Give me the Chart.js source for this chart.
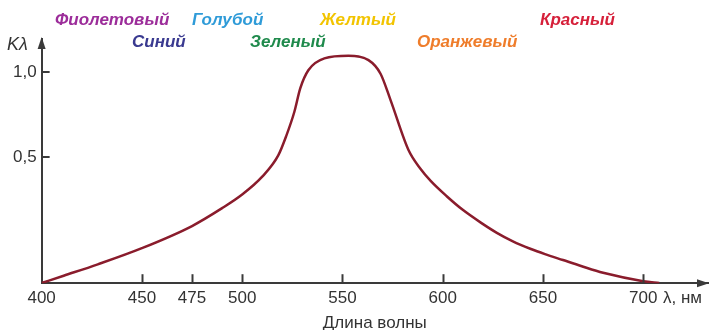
<!DOCTYPE html>
<html>
<head>
<meta charset="utf-8">
<script src="https://cdn.jsdelivr.net/npm/chart.js@4"></script>
<style>
  html, body { margin: 0; padding: 0; background: #fff; }
  #wrap { width: 719px; height: 330px; }
</style>
</head>
<body>
<div id="wrap"><canvas id="sensChart" width="719" height="330"></canvas></div>
<script>
// wavelength, nm
const wavelength = [400, 411, 428, 450, 475, 490, 500, 510, 518, 522, 526, 529, 533, 541, 553, 563, 569, 574, 583, 589, 594, 602, 610, 619, 627, 635, 644, 651, 660, 669, 680, 700, 708];
// relative sensitivity K(lambda)
const sensitivity = [-0.24, -0.197, -0.13, -0.035, 0.095, 0.20, 0.28, 0.385, 0.51, 0.625, 0.765, 0.905, 1.01, 1.08, 1.095, 1.07, 0.99, 0.835, 0.54, 0.43, 0.36, 0.27, 0.19, 0.115, 0.055, 0.005, -0.04, -0.07, -0.105, -0.14, -0.18, -0.229, -0.24];
const xTicks = [400, 450, 475, 500, 550, 600, 650, 700];
const yTicks = [0.5, 1.0];
const colorNames = ['Фиолетовый', 'Синий', 'Голубой', 'Зеленый', 'Желтый', 'Оранжевый', 'Красный'];
const colorValues = ['#9c2d9a', '#3a3a90', '#2f9bd8', '#1f8a4c', '#f2c400', '#ef7d2b', '#d6203a'];

// where each colour word sits (left x, middle y)
const namePos = [[55, 20], [132, 42], [192, 20], [250, 42], [320, 20], [417, 42], [540, 20]];

const axisColor = '#3a3a3a';
const textColor = '#333';
const font = "'Liberation Sans', Arial, sans-serif";

const extras = {
    id: 'extras',
    afterDraw(chart) {
        const c = chart.ctx;
        const a = chart.chartArea;
        const xs = chart.scales.x, ys = chart.scales.y;
        c.save();
        c.strokeStyle = axisColor;
        c.fillStyle = axisColor;
        c.lineWidth = 2;
        // inner tick marks
        xTicks.forEach(v => {
            if (v === 400) return;
            const px = Math.round(xs.getPixelForValue(v)) + 0.5;
            c.beginPath();
            c.moveTo(px, a.bottom);
            c.lineTo(px, a.bottom - 9);
            c.stroke();
        });
        yTicks.forEach(v => {
            const py = Math.round(ys.getPixelForValue(v));
            c.beginPath();
            c.moveTo(a.left, py);
            c.lineTo(a.left + 8, py);
            c.stroke();
        });
        // arrow heads
        c.beginPath();
        c.moveTo(a.right + 1, a.bottom);
        c.lineTo(a.right - 11, a.bottom - 4);
        c.lineTo(a.right - 11, a.bottom + 4);
        c.closePath();
        c.fill();
        c.beginPath();
        c.moveTo(a.left, a.top - 2);
        c.lineTo(a.left - 4, a.top + 10);
        c.lineTo(a.left + 4, a.top + 10);
        c.closePath();
        c.fill();

        // axis names
        c.fillStyle = textColor;
        c.textBaseline = 'middle';
        c.textAlign = 'left';
        c.font = 'italic 18px ' + font;
        c.fillText('Kλ', 7, 45);
        c.font = '17px ' + font;
        c.fillText('λ, нм', 663, 298);

        // colour words
        c.font = 'italic bold 17px ' + font;
        colorNames.forEach((n, i) => {
            c.fillStyle = colorValues[i];
            c.fillText(n, namePos[i][0], namePos[i][1]);
        });
        c.restore();
    }
};

const ctx = document.getElementById('sensChart').getContext('2d');
const sensChart = new Chart(ctx, {
    type: 'line',
    data: {
        datasets: [{
            data: wavelength.map((w, i) => ({ x: w, y: sensitivity[i] })),
            borderColor: '#8a1c2c',
            borderWidth: 2.5,
            pointRadius: 0,
            fill: false,
            cubicInterpolationMode: 'monotone'
        }]
    },
    options: {
        responsive: false,
        animation: false,
        layout: { padding: { left: 8, right: 11, top: 39, bottom: -4 } },
        plugins: { legend: { display: false }, tooltip: { enabled: false } },
        scales: {
            x: {
                type: 'linear',
                min: 400,
                max: 732.3,
                afterBuildTicks: s => { s.ticks = xTicks.map(v => ({ value: v })); },
                grid: { display: false, drawTicks: false },
                border: { display: true, color: axisColor, width: 2 },
                ticks: { color: textColor, font: { family: font, size: 17 }, padding: 5, maxRotation: 0, autoSkip: false },
                title: { display: true, text: 'Длина волны', color: textColor, font: { family: font, size: 17 }, padding: { top: 0, bottom: 0 } }
            },
            y: {
                type: 'linear',
                min: -0.241,
                max: 1.194,
                afterBuildTicks: s => { s.ticks = yTicks.map(v => ({ value: v })); },
                grid: { display: false, drawTicks: false },
                border: { display: true, color: axisColor, width: 2 },
                ticks: { color: textColor, font: { family: font, size: 17 }, padding: 5,
                    callback: v => v.toFixed(1).replace('.', ',') }
            }
        }
    },
    plugins: [extras]
});
</script>
</body>
</html>
